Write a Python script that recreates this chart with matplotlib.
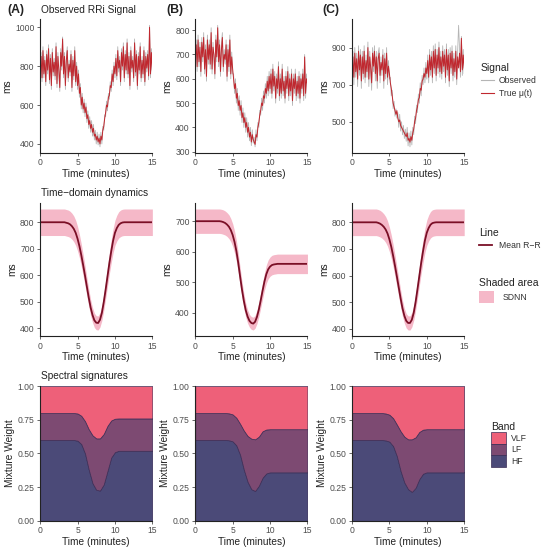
import numpy as np
import matplotlib
matplotlib.use("Agg")
import matplotlib.pyplot as plt
from matplotlib.lines import Line2D
from matplotlib.patches import Patch

plt.rcParams['font.family'] = ['Liberation Sans', 'DejaVu Sans']

# ---- row 1: observed RRi signal (0 .. 15 min, step 0.125, one row per minute) ----
t_sig = np.arange(121) * 0.125

A_true = [790, 850, 740, 880, 760, 830, 720, 860,
          780, 890, 730, 840, 700, 870, 770, 820,
          750, 900, 710, 850, 780, 690, 870, 800,
          940, 760, 850, 700, 830, 880, 740, 810,
          770, 860, 690, 830, 750, 880, 720, 800,
          700, 760, 660, 690, 600, 640, 580, 610,
          560, 590, 530, 550, 500, 520, 480, 500,
          460, 480, 440, 450, 420, 440, 410, 430,
          400, 440, 420, 470, 490, 530, 560, 600,
          590, 640, 650, 700, 690, 760, 720, 800,
          760, 840, 750, 880, 790, 830, 720, 870,
          800, 900, 740, 860, 780, 920, 760, 850,
          700, 880, 790, 830, 740, 920, 770, 860,
          700, 850, 780, 900, 740, 830, 760, 880,
          720, 850, 790, 860, 750, 1000, 760, 870,
          780]
A_obs = [770, 870, 720, 900, 740, 850, 700, 880,
         760, 910, 710, 860, 680, 890, 750, 840,
         730, 920, 690, 870, 760, 670, 890, 780,
         950, 740, 870, 680, 850, 900, 720, 830,
         750, 880, 670, 850, 730, 900, 700, 820,
         680, 780, 640, 710, 580, 660, 560, 630,
         540, 610, 510, 570, 480, 540, 460, 520,
         440, 500, 420, 470, 400, 460, 395, 450,
         385, 460, 400, 490, 470, 550, 540, 620,
         570, 660, 630, 720, 670, 780, 700, 820,
         740, 860, 730, 900, 770, 850, 700, 890,
         780, 920, 720, 880, 760, 940, 740, 870,
         680, 900, 770, 850, 720, 940, 750, 880,
         680, 870, 760, 920, 720, 850, 740, 900,
         700, 870, 770, 880, 730, 1010, 740, 890,
         760]

B_true = [680, 740, 650, 760, 670, 730, 630, 750,
          690, 770, 640, 720, 610, 760, 680, 740,
          660, 790, 640, 730, 700, 620, 760, 690,
          810, 670, 740, 630, 720, 770, 650, 700,
          680, 740, 610, 720, 650, 760, 620, 690,
          640, 600, 560, 580, 520, 540, 490, 510,
          470, 490, 440, 460, 420, 440, 400, 420,
          380, 400, 360, 380, 340, 370, 350, 340,
          330, 370, 360, 400, 420, 450, 470, 500,
          490, 530, 520, 560, 540, 590, 550, 610,
          560, 620, 540, 640, 570, 610, 520, 600,
          560, 650, 530, 600, 540, 640, 550, 590,
          520, 610, 560, 630, 530, 600, 550, 620,
          510, 600, 560, 620, 530, 590, 540, 610,
          520, 600, 560, 620, 530, 690, 540, 600,
          580]
B_obs = [660, 760, 630, 780, 650, 750, 610, 770,
         670, 790, 620, 740, 590, 780, 660, 760,
         640, 810, 620, 750, 680, 600, 780, 670,
         820, 650, 760, 610, 740, 790, 630, 720,
         660, 760, 590, 740, 630, 780, 600, 710,
         620, 620, 540, 600, 500, 560, 470, 530,
         450, 510, 420, 480, 400, 460, 380, 440,
         360, 420, 345, 400, 325, 390, 335, 360,
         320, 390, 345, 420, 400, 470, 450, 520,
         470, 550, 500, 580, 520, 610, 530, 630,
         540, 640, 520, 660, 550, 630, 500, 620,
         540, 670, 510, 620, 520, 660, 530, 610,
         500, 630, 540, 650, 510, 620, 530, 640,
         490, 620, 540, 640, 510, 610, 520, 630,
         500, 620, 540, 640, 510, 700, 520, 620,
         560]

C_true = [800, 850, 740, 870, 770, 840, 730, 880,
          780, 860, 720, 850, 760, 880, 740, 830,
          770, 900, 730, 850, 790, 710, 870, 800,
          880, 760, 850, 720, 840, 870, 750, 820,
          780, 860, 720, 840, 760, 870, 740, 800,
          760, 710, 680, 640, 600, 580, 560, 540,
          560, 520, 500, 510, 480, 470, 460, 450,
          440, 430, 420, 440, 400, 410, 390, 420,
          400, 440, 460, 500, 520, 560, 580, 620,
          630, 680, 670, 720, 730, 760, 740, 790,
          760, 830, 740, 860, 780, 850, 740, 880,
          790, 890, 750, 860, 790, 900, 770, 850,
          760, 880, 800, 860, 740, 890, 780, 860,
          720, 870, 790, 880, 750, 840, 770, 880,
          730, 850, 790, 870, 770, 950, 780, 860,
          790]
C_obs = [780, 880, 700, 900, 740, 870, 690, 910,
         750, 890, 680, 880, 730, 910, 710, 860,
         740, 930, 690, 880, 760, 670, 900, 770,
         910, 720, 880, 680, 870, 900, 710, 850,
         750, 890, 680, 870, 730, 900, 700, 830,
         730, 740, 640, 670, 570, 610, 530, 570,
         520, 550, 470, 540, 450, 500, 430, 480,
         410, 460, 395, 470, 370, 440, 365, 450,
         375, 470, 430, 530, 490, 590, 550, 650,
         600, 710, 640, 750, 700, 790, 710, 820,
         730, 860, 710, 890, 750, 880, 710, 910,
         760, 920, 720, 890, 760, 930, 740, 880,
         730, 910, 770, 890, 710, 920, 750, 890,
         690, 900, 760, 910, 720, 870, 740, 910,
         700, 880, 1020, 900, 740, 960, 750, 890,
         760]

# ---- row 2: mean R-R and SDNN (0 .. 15 min, step 0.25) ----
t_dyn = np.arange(61) * 0.25

A_mean = [800] * 13 + [800, 798, 796, 792, 785, 775, 760, 738, 710, 676, 638, 598, 556, 515,
                       478, 450, 430, 421, 420, 432, 458, 498, 545, 595, 645, 690, 730, 760,
                       778, 790, 796, 799] + [800] * 16
A_sd = [50] * 13 + [50, 50, 50, 49.5, 49, 48.5, 47.5, 46, 44, 42, 40, 37.5, 35, 32.5,
                    30, 28, 27, 26.5, 26.5, 27, 28.5, 31, 34, 37, 40, 43, 45.5, 47.5,
                    48.5, 49.5, 50, 50] + [50] * 16

B_mean = [700] * 13 + [700, 699, 697, 694, 689, 682, 671, 655, 632, 602, 563, 518, 475, 438,
                       408, 387, 373, 366, 364, 370, 386, 410, 440, 472, 502, 526, 542, 551,
                       556, 558, 559, 560] + [560] * 16
B_sd = [40] * 13 + [40, 40, 40, 39.5, 39, 39, 38, 37, 36, 34, 32, 29.5, 27, 25,
                    23, 22, 21, 21, 21, 21, 22, 23.5, 25, 27, 28.5, 30, 31, 31.5,
                    32, 32, 32, 32] + [32] * 16

C_mean = [800] * 13 + [800, 798, 795, 790, 783, 773, 758, 736, 708, 674, 636, 596, 555, 514,
                       477, 449, 430, 422, 422, 434, 460, 500, 548, 598, 648, 692, 732, 761,
                       779, 791, 797, 799] + [800] * 16
C_sd = [50] * 13 + [50, 50, 50, 49.5, 49, 48.5, 47.5, 46, 44, 42, 40, 37.5, 35, 32.5,
                    30, 28, 27, 26.5, 26.5, 27, 28.5, 31, 34, 37, 40, 43, 45.5, 47.5,
                    48.5, 49.5, 50, 50] + [50] * 16

# ---- row 3: band mixture weights (0 .. 15 min, step 0.5) ----
t_mix = np.arange(31) * 0.5

A_hf = [.60, .60, .60, .60, .60, .60, .60, .60, .60, .60, .595, .57, .50, .38, .28, .23,
        .225, .27, .37, .47, .51, .52, .52, .52, .52, .52, .52, .52, .52, .52, .52]
A_lf = [.20, .20, .20, .20, .20, .20, .20, .20, .20, .20, .202, .21, .24, .30, .355, .382,
        .387, .375, .335, .275, .248, .24, .24, .24, .24, .24, .24, .24, .24, .24, .24]
A_vlf = [.20, .20, .20, .20, .20, .20, .20, .20, .20, .20, .203, .22, .26, .32, .365, .388,
         .388, .355, .295, .255, .242, .24, .24, .24, .24, .24, .24, .24, .24, .24, .24]

B_hf = [.60, .60, .60, .60, .60, .60, .60, .60, .60, .598, .59, .56, .49, .38, .29, .235,
        .222, .26, .32, .352, .36, .36, .36, .36, .36, .36, .36, .36, .36, .36, .36]
B_lf = [.20, .20, .20, .20, .20, .20, .20, .20, .20, .20, .20, .205, .23, .29, .34, .375,
        .383, .365, .345, .326, .32, .32, .32, .32, .32, .32, .32, .32, .32, .32, .32]
B_vlf = [.20, .20, .20, .20, .20, .20, .20, .20, .20, .202, .21, .235, .28, .33, .37, .39,
         .395, .375, .335, .322, .32, .32, .32, .32, .32, .32, .32, .32, .32, .32, .32]

C_hf = [.60, .60, .60, .60, .60, .60, .60, .60, .60, .597, .588, .555, .48, .37, .285, .235,
        .215, .245, .31, .35, .36, .36, .36, .36, .36, .36, .36, .36, .36, .36, .36]
C_lf = [.20, .20, .20, .20, .20, .20, .20, .20, .20, .20, .20, .207, .235, .295, .34, .37,
        .39, .375, .35, .327, .32, .32, .32, .32, .32, .32, .32, .32, .32, .32, .32]
C_vlf = [.20, .20, .20, .20, .20, .20, .20, .20, .20, .203, .212, .238, .285, .335, .375, .395,
         .395, .38, .34, .323, .32, .32, .32, .32, .32, .32, .32, .32, .32, .32, .32]

panel_tags = ["(A)", "(B)", "(C)"]
sig_ticks = [[400, 600, 800, 1000], [300, 400, 500, 600, 700, 800], [500, 700, 900]]
dyn_ticks = [[400, 500, 600, 700, 800], [400, 500, 600, 700], [400, 500, 600, 700, 800]]

signals = [(A_obs, A_true), (B_obs, B_true), (C_obs, C_true)]
dynamics = [(A_mean, A_sd), (B_mean, B_sd), (C_mean, C_sd)]
weights = [(A_hf, A_lf, A_vlf), (B_hf, B_lf, B_vlf), (C_hf, C_lf, C_vlf)]

col_obs = "#b5b5b5"
col_true = "#c0282f"
col_mean = "#7a0f26"
col_sd = "#f5b8c8"
col_hf, col_lf, col_vlf = "#4b4a78", "#7d4a72", "#ee6079"
edge = "#3a2c55"
txt = "#222222"
tick_col = "#4d4d4d"

fig = plt.figure(figsize=(5.5, 5.5), dpi=100)

lefts = [0.073, 0.355, 0.640]
w = 0.204
rows = [(0.722, 0.243), (0.389, 0.242), (0.053, 0.245)]


def style(ax):
    for s in ["top", "right"]:
        ax.spines[s].set_visible(False)
    for s in ["left", "bottom"]:
        ax.spines[s].set_color("#222222")
        ax.spines[s].set_linewidth(0.8)
    ax.tick_params(labelsize=6.2, colors=tick_col, length=2.5, width=0.6, pad=1.5)
    ax.set_xlim(0, 15)
    ax.set_xticks([0, 5, 10, 15])
    ax.set_xlabel("Time (minutes)", fontsize=7.3, color=txt, labelpad=1)


for i in range(3):
    # row 1
    ax = fig.add_axes([lefts[i], rows[0][0], w, rows[0][1]])
    obs, tru = signals[i]
    ax.plot(t_sig, obs, color=col_obs, lw=0.6)
    ax.plot(t_sig, tru, color=col_true, lw=0.7)
    ax.margins(y=0.05)
    style(ax)
    ax.set_yticks(sig_ticks[i])
    ax.set_ylabel("ms", fontsize=7.3, color=txt, labelpad=2)

    # row 2
    ax = fig.add_axes([lefts[i], rows[1][0], w, rows[1][1]])
    m, sd = dynamics[i]
    m = np.array(m, float)
    sd = np.array(sd, float)
    ax.fill_between(t_dyn, m - sd, m + sd, color=col_sd, lw=0)
    ax.plot(t_dyn, m, color=col_mean, lw=1.3)
    ax.margins(y=0.05)
    style(ax)
    ax.set_yticks(dyn_ticks[i])
    ax.set_ylabel("ms", fontsize=7.3, color=txt, labelpad=2)

    # row 3
    ax = fig.add_axes([lefts[i], rows[2][0], w, rows[2][1]])
    hf, lf, vlf = weights[i]
    ax.stackplot(t_mix, hf, lf, vlf, colors=[col_hf, col_lf, col_vlf],
                 edgecolor=edge, linewidth=0.5)
    style(ax)
    ax.set_ylim(0, 1)
    ax.set_yticks([0, 0.25, 0.5, 0.75, 1.0])
    ax.set_yticklabels(["0.00", "0.25", "0.50", "0.75", "1.00"])
    ax.set_ylabel("Mixture Weight", fontsize=7.3, color=txt, labelpad=2)

# panel tags and titles
tag_x = [0.013, 0.302, 0.587]
for i in range(3):
    fig.text(tag_x[i], 1 - 10 / 550, panel_tags[i], fontsize=8.8, fontweight="bold",
             color=txt, va="center", ha="left")
fig.text(0.074, 1 - 10 / 550, "Observed RRi Signal", fontsize=7.3, color=txt, va="center")
fig.text(0.074, 1 - 193 / 550, "Time\u2212domain dynamics", fontsize=7.3, color=txt, va="center")
fig.text(0.074, 1 - 376 / 550, "Spectral signatures", fontsize=7.3, color=txt, va="center")

# legends
leg_kw = dict(frameon=False, loc="upper left", fontsize=6.2, title_fontsize=7.5,
              alignment="left", handlelength=1.5, handletextpad=0.6, labelspacing=0.4,
              borderaxespad=0, borderpad=0)
l1 = fig.legend(handles=[Line2D([], [], color=col_obs, lw=0.8),
                         Line2D([], [], color=col_true, lw=0.8)],
                labels=["Observed", "True \u03bc(t)"], title="Signal",
                bbox_to_anchor=(481 / 550, 1 - 63 / 550), **leg_kw)
l2 = fig.legend(handles=[Line2D([], [], color=col_mean, lw=1.3)],
                labels=["Mean R\u2212R"], title="Line",
                bbox_to_anchor=(479 / 550, 1 - 228 / 550),
                **{**leg_kw, "handletextpad": 0.8})
l3 = fig.legend(handles=[Patch(facecolor=col_sd, edgecolor="none")],
                labels=["SDNN"], title="Shaded area",
                bbox_to_anchor=(479 / 550, 1 - 278 / 550),
                **{**leg_kw, "handlelength": 1.7, "handleheight": 1.7, "handletextpad": 1.0})
l4 = fig.legend(handles=[Patch(facecolor=col_vlf, edgecolor=edge, lw=0.5),
                         Patch(facecolor=col_lf, edgecolor=edge, lw=0.5),
                         Patch(facecolor=col_hf, edgecolor=edge, lw=0.5)],
                labels=["VLF", "LF", "HF"], title="Band",
                bbox_to_anchor=(491 / 550, 1 - 422 / 550),
                **{**leg_kw, "labelspacing": 0.0, "handlelength": 1.7,
                   "handleheight": 1.7, "handletextpad": 0.6})
for lg in (l1, l2, l3, l4):
    lg.get_title().set_color(txt)
    for tx in lg.get_texts():
        tx.set_color("#333333")

fig.savefig("out.png", dpi=100)
